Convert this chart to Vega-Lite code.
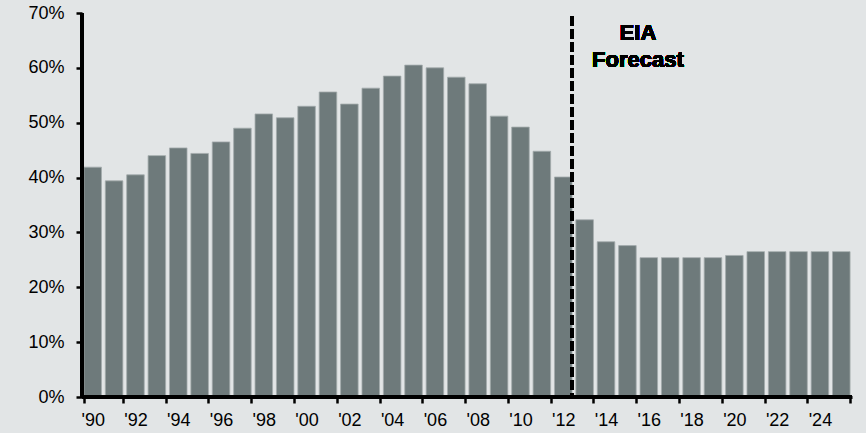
{
  "$schema": "https://vega.github.io/schema/vega-lite/v6.json",
  "autosize": {"type": "none"},
  "width": 770,
  "height": 384,
  "padding": {"left": 82, "top": 13, "right": 14, "bottom": 36},
  "background": "#e2e5e6",
  "config": {
    "view": {"stroke": null},
    "font": "Liberation Sans",
    "axis": {"grid": false, "labelFont": "Liberation Sans", "labelColor": "#000000", "labelFontSize": 18, "domainColor": "black", "domainWidth": 3, "domainOpacity": 1, "tickColor": "black", "tickWidth": 2.5, "tickSize": 6, "title": null}
  },
  "data": {
    "values": [
      {"year": 1990, "share": 41.9},
      {"year": 1991, "share": 39.4},
      {"year": 1992, "share": 40.5},
      {"year": 1993, "share": 44.0},
      {"year": 1994, "share": 45.4},
      {"year": 1995, "share": 44.4},
      {"year": 1996, "share": 46.5},
      {"year": 1997, "share": 49.0},
      {"year": 1998, "share": 51.6},
      {"year": 1999, "share": 50.9},
      {"year": 2000, "share": 53.0},
      {"year": 2001, "share": 55.6},
      {"year": 2002, "share": 53.4},
      {"year": 2003, "share": 56.3},
      {"year": 2004, "share": 58.5},
      {"year": 2005, "share": 60.5},
      {"year": 2006, "share": 60.0},
      {"year": 2007, "share": 58.3},
      {"year": 2008, "share": 57.1},
      {"year": 2009, "share": 51.2},
      {"year": 2010, "share": 49.2},
      {"year": 2011, "share": 44.8},
      {"year": 2012, "share": 40.1},
      {"year": 2013, "share": 32.3},
      {"year": 2014, "share": 28.3},
      {"year": 2015, "share": 27.6},
      {"year": 2016, "share": 25.4},
      {"year": 2017, "share": 25.4},
      {"year": 2018, "share": 25.4},
      {"year": 2019, "share": 25.4},
      {"year": 2020, "share": 25.8},
      {"year": 2021, "share": 26.5},
      {"year": 2022, "share": 26.5},
      {"year": 2023, "share": 26.5},
      {"year": 2024, "share": 26.5},
      {"year": 2025, "share": 26.5}
    ]
  },
  "layer": [
    {
      "mark": {"type": "bar", "color": "#6e7a7b", "stroke": "#a3abac", "strokeWidth": 0.8},
      "encoding": {
        "x": {
          "field": "year", "type": "ordinal",
          "scale": {"paddingInner": 0.18, "paddingOuter": 0.09},
          "axis": {
            "labelExpr": "isValid(datum.value) && datum.value % 2 == 0 ? \"'\" + substring(toString(datum.value), 2, 4) : ''",
            "tickOpacity": {"condition": {"test": "!isValid(datum.value) || datum.value % 2 == 1", "value": 1}, "value": 0},
            "labelAngle": 0,
            "tickBand": "extent",
            "labelPadding": 8,
            "zindex": 2
          }
        },
        "y": {
          "field": "share", "type": "quantitative",
          "scale": {"domain": [0, 70]},
          "axis": {"zindex": 2, "values": [0,10,20,30,40,50,60,70], "labelExpr": "datum.value + '%'", "labelPadding": 12}
        }
      }
    },
    {
      "mark": {"type": "rule", "color": "#000000", "strokeWidth": 3},
      "encoding": {
        "y": {"datum": 0, "type": "quantitative"}
      }
    },
    {
      "mark": {"type": "rule", "color": "#000000", "strokeWidth": 3},
      "encoding": {
        "x": {"datum": 1990, "type": "ordinal", "bandPosition": -0.11}
      }
    },
    {
      "mark": {"type": "rule", "color": "#000000", "strokeWidth": 3, "strokeDash": [9, 4]},
      "encoding": {
        "x": {"datum": 2012, "type": "ordinal", "bandPosition": 1},
        "y": {"datum": 69.3, "type": "quantitative"},
        "y2": {"datum": 0}
      }
    },
    {
      "mark": {"type": "text", "fontSize": 22, "fontWeight": "bold", "color": "#000000", "align": "center", "baseline": "middle", "lineHeight": 27, "font": "Liberation Sans"},
      "encoding": {
        "x": {"datum": 2015, "type": "ordinal", "bandPosition": 1.1},
        "y": {"datum": 66.3, "type": "quantitative"},
        "text": {"value": ["EIA", "Forecast"]}
      }
    }
  ]
}
